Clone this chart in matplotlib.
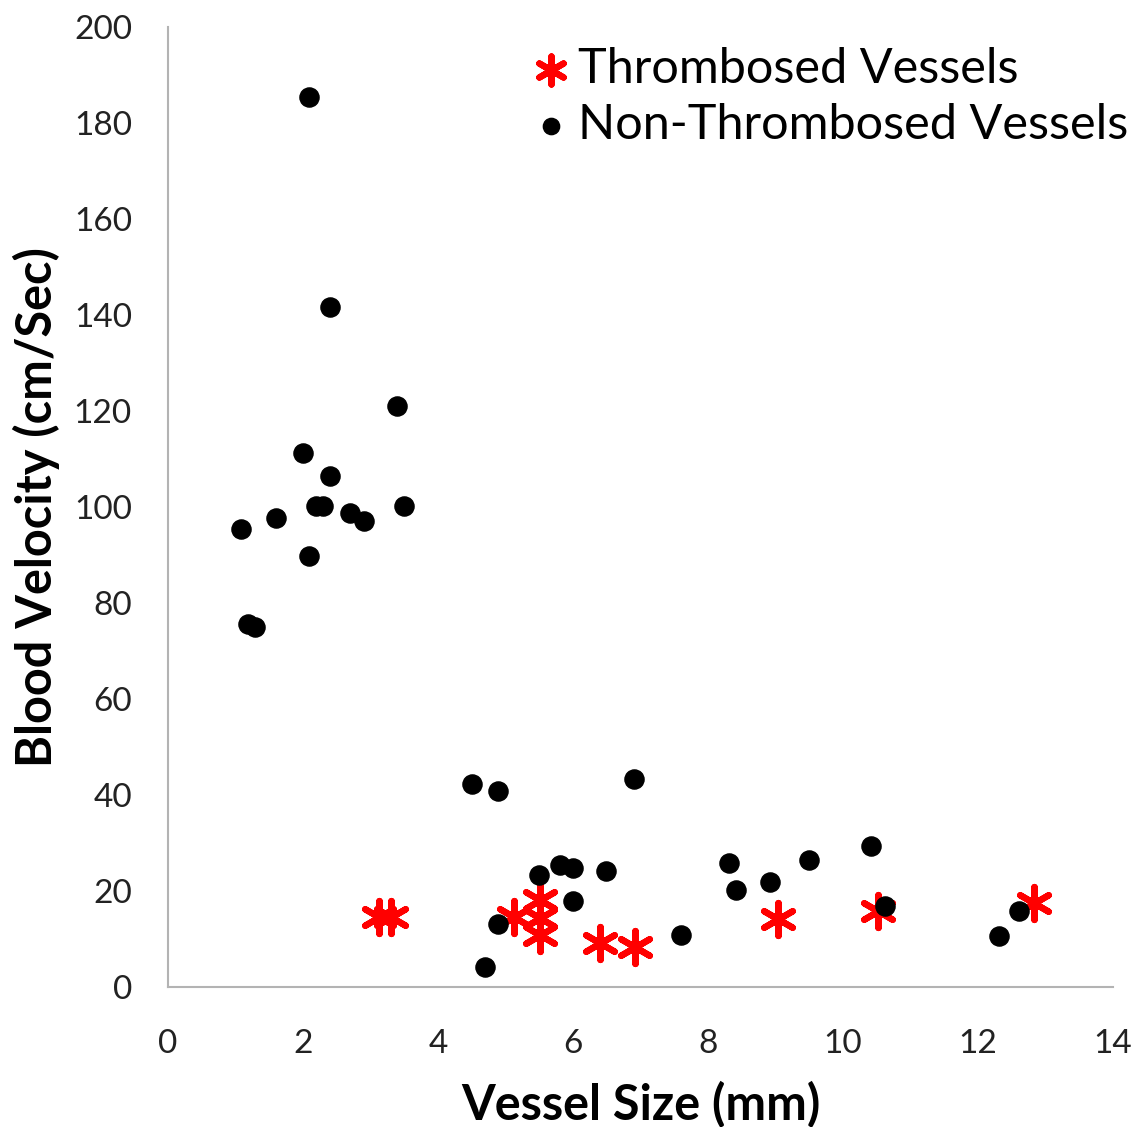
import matplotlib.pyplot as plt
import numpy as np

# Thrombosed vessels (red asterisks)
thromb_size = [3.12, 3.31, 5.12, 5.51, 5.51, 5.51, 6.40, 6.92, 9.03, 10.52, 12.83]
thromb_vel = [14.6, 14.6, 14.6, 18.1, 14.3, 10.8, 9.1, 8.4, 14.1, 15.8, 17.6]

# Non-thrombosed vessels (black dots)
non_size = [2.09, 2.40, 3.39, 2.00, 2.40, 2.19, 2.30, 3.50, 2.70, 2.90, 1.60, 1.08, 2.09, 1.19, 1.29,
            4.50, 4.89, 6.90, 5.50, 5.80, 6.00, 6.49, 6.00, 4.89, 4.70, 7.60,
            8.31, 8.41, 8.92, 9.50, 10.41, 10.62, 12.31, 12.61]
non_vel = [185.5, 141.7, 121.0, 111.3, 106.5, 100.2, 100.2, 100.2, 98.7, 97.1, 97.7, 95.4, 89.8, 75.6, 75.0,
           42.2, 40.8, 43.3, 23.3, 25.4, 24.7, 24.2, 18.0, 13.1, 4.1, 10.8,
           25.9, 20.2, 21.8, 26.5, 29.4, 16.9, 10.7, 15.9]

x_ticks = [0, 2, 4, 6, 8, 10, 12, 14]
y_ticks = [0, 20, 40, 60, 80, 100, 120, 140, 160, 180, 200]

plt.rcParams['font.family'] = ['Lato', 'DejaVu Sans']

fig = plt.figure(figsize=(11.47, 11.27), dpi=100)
ax = fig.add_axes([0.1465, 0.1242, 0.8239, 0.8518])

ax.scatter(thromb_size, thromb_vel, marker=(6, 2, 0), s=560, color='#ff0000',
           linewidths=4.6, label='Thrombosed Vessels', zorder=2)
ax.scatter(non_size, non_vel, marker='o', s=190, color='black',
           label='Non-Thrombosed Vessels', zorder=3)

ax.set_xlim(0, 14)
ax.set_ylim(0, 200)
ax.set_xticks(x_ticks)
ax.set_yticks(y_ticks)
ax.tick_params(length=0, labelsize=24, colors='#222222', pad=26)
ax.tick_params(axis='x', pad=30)

for side in ['top', 'right']:
    ax.spines[side].set_visible(False)
for side in ['left', 'bottom']:
    ax.spines[side].set_color('#b3b3b3')
    ax.spines[side].set_linewidth(1.5)

ax.set_xlabel('Vessel Size (mm)', fontsize=35, fontweight='bold', labelpad=16)
ax.set_ylabel('Blood Velocity (cm/Sec)', fontsize=35, fontweight='bold', labelpad=10)

ax.legend(loc='upper right', bbox_to_anchor=(1.042, 1.005), frameon=False, fontsize=35,
          borderpad=0, handletextpad=0.05, labelspacing=0.25, markerscale=0.85,
          handlelength=1.0)

fig.savefig('out.png', dpi=100)
